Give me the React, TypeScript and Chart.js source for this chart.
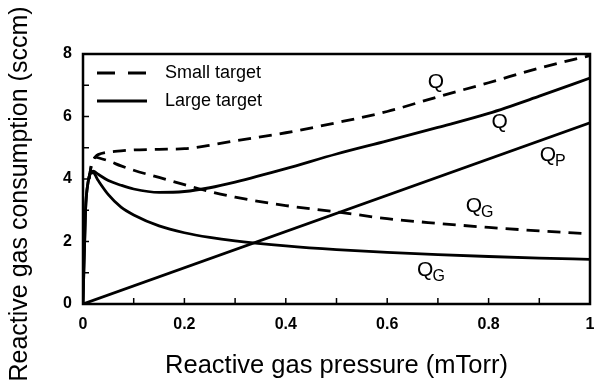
import { useEffect, useRef } from 'react';
import { Chart, registerables } from 'chart.js';

Chart.register(...registerables);

// ---- Data ----
const pressureLarge = [0, 0.005, 0.01, 0.015, 0.02, 0.03, 0.05, 0.075, 0.1, 0.15, 0.2, 0.25, 0.3, 0.4, 0.5, 0.6, 0.7, 0.8, 0.9, 1.0];
const largeQ = [0, 3.0, 3.9, 4.2, 4.25, 4.15, 3.95, 3.8, 3.68, 3.57, 3.6, 3.72, 3.9, 4.33, 4.8, 5.22, 5.65, 6.1, 6.65, 7.23];
const largeQG = [0, 3.0, 3.9, 4.2, 4.2, 3.95, 3.5, 3.1, 2.85, 2.5, 2.28, 2.13, 2.02, 1.86, 1.74, 1.65, 1.58, 1.52, 1.47, 1.43];
const pressureQP = [0, 1];
const largeQP = [0, 5.8];
const pressureSmall = [0.012, 0.016, 0.02, 0.025, 0.03, 0.05, 0.075, 0.1, 0.15, 0.2, 0.25, 0.3, 0.4, 0.5, 0.6, 0.7, 0.8, 0.9, 1.0];
const smallQ = [4.0, 4.4, 4.6, 4.72, 4.78, 4.86, 4.9, 4.93, 4.95, 4.97, 5.08, 5.22, 5.48, 5.8, 6.16, 6.63, 7.08, 7.55, 7.95];
const smallQG = [4.0, 4.4, 4.6, 4.7, 4.68, 4.58, 4.42, 4.28, 4.05, 3.82, 3.6, 3.42, 3.15, 2.95, 2.73, 2.58, 2.45, 2.34, 2.24];

const legendLabels = ['Small target', 'Large target'];
const xTitle = 'Reactive gas pressure (mTorr)';
const yTitle = 'Reactive gas consumption (sccm)';

// curve annotations: main letter, subscript, data position
const curveLabels = [
  { text: 'Q', sub: '', x: 0.696, y: 7.1 },
  { text: 'Q', sub: '', x: 0.822, y: 5.82 },
  { text: 'Q', sub: 'P', x: 0.917, y: 4.77 },
  { text: 'Q', sub: 'G', x: 0.771, y: 3.14 },
  { text: 'Q', sub: 'G', x: 0.675, y: 1.09 },
];

const FONT = "'Liberation Sans', Arial, Helvetica, sans-serif";
const DASH = [13, 8];
const LW = 2.8;

const toPoints = (xs: number[], ys: number[]) => xs.map((x, i) => ({ x, y: ys[i] }));

const framePlugin = {
  id: 'frame',
  afterDatasetsDraw(chart: any) {
    const { ctx, chartArea: a, scales } = chart;
    ctx.save();
    ctx.strokeStyle = '#000';
    ctx.lineWidth = 2.5;
    ctx.strokeRect(a.left, a.top, a.right - a.left, a.bottom - a.top);
    ctx.lineWidth = 1.5;
    scales.x.ticks.forEach((t: any) => {
      const px = scales.x.getPixelForValue(t.value);
      ctx.beginPath();
      ctx.moveTo(px, a.bottom);
      ctx.lineTo(px, a.bottom - 6);
      ctx.stroke();
    });
    scales.y.ticks.forEach((t: any) => {
      const py = scales.y.getPixelForValue(t.value);
      ctx.beginPath();
      ctx.moveTo(a.left, py);
      ctx.lineTo(a.left + 6, py);
      ctx.stroke();
    });
    ctx.restore();
  },
};

const titlePlugin = {
  id: 'titles',
  afterDraw(chart: any) {
    const { ctx, chartArea: a } = chart;
    ctx.save();
    ctx.fillStyle = '#000';
    ctx.textAlign = 'center';
    ctx.textBaseline = 'middle';
    ctx.font = `25.5px ${FONT}`;
    ctx.fillText(xTitle, (a.left + a.right) / 2, 366);
    ctx.translate(20, 194);
    ctx.rotate(-Math.PI / 2);
    ctx.font = `25px ${FONT}`;
    ctx.fillText(yTitle, 0, 0);
    ctx.restore();
  },
};

const labelPlugin = {
  id: 'curveLabels',
  afterDatasetsDraw(chart: any) {
    const { ctx, scales } = chart;
    ctx.save();
    ctx.fillStyle = '#000';
    curveLabels.forEach((l) => {
      const px = scales.x.getPixelForValue(l.x);
      const py = scales.y.getPixelForValue(l.y);
      ctx.font = `21px ${FONT}`;
      ctx.textAlign = 'center';
      ctx.textBaseline = 'middle';
      ctx.fillText(l.text, px, py);
      if (l.sub) {
        const w = ctx.measureText(l.text).width;
        ctx.font = `16px ${FONT}`;
        ctx.textAlign = 'left';
        ctx.fillText(l.sub, px + w / 2 - 1, py + 7);
      }
    });
    ctx.restore();
  },
};

const legendPlugin = {
  id: 'inlineLegend',
  afterDatasetsDraw(chart: any) {
    const { ctx, chartArea: a } = chart;
    ctx.save();
    ctx.strokeStyle = '#000';
    ctx.fillStyle = '#000';
    ctx.lineWidth = 3;
    legendLabels.forEach((label, i) => {
      const y = a.top + 19 + i * 28;
      ctx.setLineDash(i === 0 ? [18, 13] : []);
      ctx.beginPath();
      ctx.moveTo(a.left + 14, y);
      ctx.lineTo(a.left + 64, y);
      ctx.stroke();
      ctx.setLineDash([]);
      ctx.font = `18px ${FONT}`;
      ctx.textAlign = 'left';
      ctx.textBaseline = 'middle';
      ctx.fillText(label, a.left + 82, y);
    });
    ctx.restore();
  },
};

export default function App() {
  const ref = useRef<HTMLCanvasElement>(null);
  useEffect(() => {
    const canvas = ref.current!;
    const solid = { borderColor: '#000', borderWidth: LW, pointRadius: 0, fill: false, cubicInterpolationMode: 'monotone' as const };
    const dashed = { ...solid, borderDash: DASH };
    const chart = new Chart(canvas, {
      type: 'line',
      data: {
        datasets: [
          { label: 'Small target Q', data: toPoints(pressureSmall, smallQ), ...dashed },
          { label: 'Small target QG', data: toPoints(pressureSmall, smallQG), ...dashed },
          { label: 'Large target Q', data: toPoints(pressureLarge, largeQ), ...solid },
          { label: 'Large target QG', data: toPoints(pressureLarge, largeQG), ...solid },
          { label: 'Large target QP', data: toPoints(pressureQP, largeQP), ...solid },
        ],
      },
      options: {
        animation: false,
        responsive: false,
        maintainAspectRatio: false,
        layout: { padding: { top: 54, right: 8, left: 0, bottom: 0 } },
        plugins: { legend: { display: false }, tooltip: { enabled: false } },
        scales: {
          x: {
            type: 'linear',
            min: 0,
            max: 1,
            ticks: {
              stepSize: 0.1,
              autoSkip: false,
              maxRotation: 0,
              color: '#000',
              padding: 11,
              font: { family: FONT, size: 16, weight: 'bold' },
              callback: (v: any) => {
                const r = Math.round(Number(v) * 10);
                if (r % 2 !== 0) return '';
                if (r === 0) return '0';
                if (r === 10) return '1';
                return (r / 10).toFixed(1);
              },
            },
            grid: { display: false, drawTicks: false },
            border: { display: false },
            title: { display: false },
            afterFit: (s: any) => { s.height = 83; s.paddingLeft = 0; s.paddingRight = 0; },
          },
          y: {
            min: 0,
            max: 8,
            ticks: {
              stepSize: 1,
              autoSkip: false,
              color: '#000',
              padding: 11,
              font: { family: FONT, size: 16, weight: 'bold' },
              callback: (v: any) => (Math.round(Number(v)) % 2 === 0 ? String(Math.round(Number(v))) : ''),
            },
            grid: { display: false, drawTicks: false },
            border: { display: false },
            title: { display: false },
            afterFit: (s: any) => { s.width = 83; s.paddingTop = 0; s.paddingBottom = 0; },
          },
        },
      } as any,
      plugins: [framePlugin, labelPlugin, legendPlugin, titlePlugin],
    });
    return () => chart.destroy();
  }, []);
  return (
    <div style={{ position: 'fixed', left: 0, top: 0, width: 598, height: 387, background: '#fff' }}>
      <canvas ref={ref} width={598} height={387} style={{ display: 'block', width: 598, height: 387 }} />
    </div>
  );
}
